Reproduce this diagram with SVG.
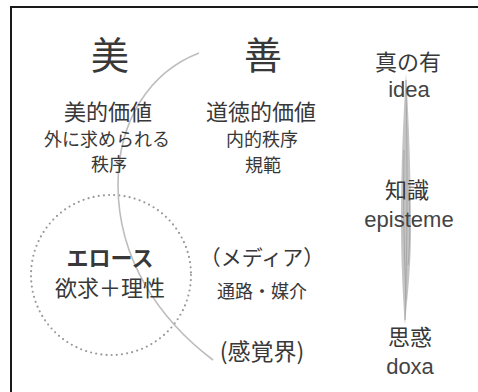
<svg xmlns="http://www.w3.org/2000/svg" width="478" height="392" viewBox="0 0 478 392">
<style>
.jp{font-family:"Noto Sans CJK JP","Noto Sans",sans-serif;fill:#383838;text-anchor:middle}
.lat{font-family:"Liberation Sans","Arial",sans-serif;fill:#444;text-anchor:middle}
.big{font-size:38px}
.m{font-size:22px}
.s{font-size:18px}
</style>
<rect width="478" height="392" fill="#fff"/>
<g id="frame" stroke="#1a1a1a" stroke-width="2" fill="none">
<path d="M11,392 V7 H478"/>
</g>
<g id="connectors">
<circle cx="111" cy="275" r="80" fill="none" stroke="#9a9a9a" stroke-width="2.2" stroke-linecap="round" stroke-dasharray="0 5.2"/>
<path d="M199,53 C150,72 118,120 118,185 C118,260 160,320 213,360" fill="none" stroke="#bdbdbd" stroke-width="1.6"/>
<path d="M406,73 C409,120 411,180 411,230 C411,270 407,300 405,325 C403,300 401,260 401,220 C401,170 403,120 406,73 Z" fill="#c4c4c4"/>
<path d="M406,80 C407,150 408,220 405,320 M404,150 C403,200 404,250 406,300 M409,190 C410,220 410,250 408,265" fill="none" stroke="#a8a8a8" stroke-width="1"/>
</g>
<g id="bi">
<text class="jp big" x="110" y="69">美</text>
<text class="jp m" x="108" y="120">美的価値</text>
<text class="jp s" x="107" y="146">外に求められる</text>
<text class="jp s" x="109" y="171">秩序</text>
</g>
<g id="zen">
<text class="jp big" x="263" y="69">善</text>
<text class="jp m" x="261" y="120">道徳的価値</text>
<text class="jp s" x="262" y="146">内的秩序</text>
<text class="jp s" x="263" y="172">規範</text>
</g>
<g id="idea">
<text class="jp m" x="408" y="70">真の有</text>
<text class="lat m" x="409" y="97">idea</text>
</g>
<g id="episteme">
<text class="jp m" x="407" y="198">知識</text>
<text class="lat m" x="409" y="227">episteme</text>
</g>
<g id="doxa">
<text class="jp m" x="410" y="345">思惑</text>
<text class="lat m" x="410" y="374">doxa</text>
</g>
<g id="eros">
<text class="jp m" x="110" y="266" font-weight="bold">エロース</text>
<text class="jp m" x="110" y="296">欲求＋理性</text>
</g>
<g id="media">
<text class="jp" x="262" y="265" font-size="21">（メディア）</text>
<text class="jp s" x="262" y="298">通路・媒介</text>
</g>
<g id="kankaku">
<text class="jp" x="262" y="360" font-size="23">(感覚界)</text>
</g>
</svg>
